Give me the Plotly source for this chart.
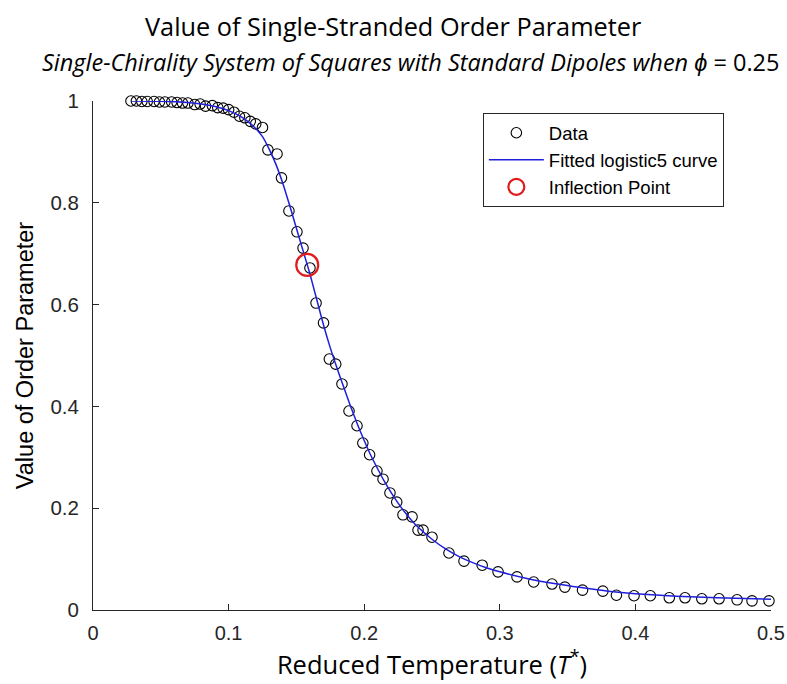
import plotly.graph_objects as go

# Data points (reduced temperature, order parameter)
data_T = [0.028, 0.032, 0.036, 0.040, 0.045, 0.049, 0.053, 0.058, 0.062, 0.066,
          0.070, 0.075, 0.079, 0.083, 0.088, 0.092, 0.096, 0.100, 0.104, 0.108,
          0.112, 0.116, 0.120, 0.125, 0.129, 0.1357, 0.139, 0.1445, 0.1504, 0.1549,
          0.160, 0.1645, 0.170, 0.1743, 0.179, 0.1836, 0.1888, 0.1947, 0.199, 0.204,
          0.2094, 0.2139, 0.219, 0.224, 0.2286, 0.2353, 0.2397, 0.2434, 0.250, 0.2625,
          0.2736, 0.287, 0.2987, 0.3127, 0.325, 0.3385, 0.348, 0.361, 0.376, 0.386,
          0.399, 0.411, 0.425, 0.4366, 0.449, 0.4617, 0.475, 0.486, 0.4985]
data_V = [1.000, 1.000, 0.999, 0.999, 0.999, 0.998, 0.998, 0.998, 0.997, 0.996,
          0.996, 0.993, 0.994, 0.990, 0.991, 0.987, 0.986, 0.983, 0.978, 0.970,
          0.967, 0.960, 0.955, 0.948, 0.904, 0.896, 0.849, 0.784, 0.743, 0.711,
          0.672, 0.603, 0.564, 0.493, 0.483, 0.444, 0.391, 0.362, 0.328, 0.305,
          0.273, 0.257, 0.230, 0.212, 0.187, 0.183, 0.157, 0.157, 0.143, 0.112,
          0.096, 0.088, 0.075, 0.065, 0.055, 0.051, 0.045, 0.039, 0.037, 0.029,
          0.028, 0.028, 0.024, 0.024, 0.022, 0.022, 0.020, 0.018, 0.018]

# Fitted logistic5 curve
fit_T = [0.028, 0.05, 0.07, 0.08, 0.09, 0.10, 0.11, 0.115, 0.12, 0.125,
         0.13, 0.135, 0.14, 0.145, 0.15, 0.155, 0.16, 0.165, 0.17, 0.175,
         0.18, 0.185, 0.19, 0.195, 0.20, 0.205, 0.21, 0.215, 0.22, 0.225,
         0.23, 0.235, 0.24, 0.25, 0.26, 0.27, 0.28, 0.29, 0.30, 0.32,
         0.34, 0.36, 0.38, 0.40, 0.43, 0.46, 0.50]
fit_V = [1.000, 0.9995, 0.997, 0.994, 0.989, 0.981, 0.968, 0.958, 0.946, 0.930,
         0.905, 0.875, 0.838, 0.795, 0.750, 0.705, 0.660, 0.610, 0.560, 0.515,
         0.475, 0.437, 0.400, 0.365, 0.333, 0.303, 0.277, 0.252, 0.230, 0.210,
         0.192, 0.176, 0.162, 0.139, 0.120, 0.105, 0.093, 0.083, 0.075, 0.062,
         0.052, 0.044, 0.037, 0.032, 0.027, 0.024, 0.021]

# Inflection point
infl_T = [0.158]
infl_V = [0.678]

x_ticks = [0, 0.1, 0.2, 0.3, 0.4, 0.5]
x_ticklabels = ["0", "0.1", "0.2", "0.3", "0.4", "0.5"]
y_ticks = [0, 0.2, 0.4, 0.6, 0.8, 1]
y_ticklabels = ["0", "0.2", "0.4", "0.6", "0.8", "1"]

AX = "#262626"
FONT = "Liberation Sans, Arial, sans-serif"
HUM = "Open Sans, sans-serif"

fig = go.Figure()
fig.add_trace(go.Scatter(
    x=data_T, y=data_V, mode="markers", name="Data",
    marker=dict(symbol="circle-open", size=10.5, color="black", line=dict(width=1.1, color="black")),
    cliponaxis=False,
))
fig.add_trace(go.Scatter(
    x=fit_T, y=fit_V, mode="lines", name="Fitted logistic5 curve",
    line=dict(color="#1f1fdc", width=1.5, shape="spline", smoothing=0.6),
    cliponaxis=False,
))
fig.add_trace(go.Scatter(
    x=infl_T, y=infl_V, mode="markers", name="Inflection Point",
    marker=dict(symbol="circle-open", size=22, color="#e01b1b", line=dict(width=2.2, color="#e01b1b")),
    cliponaxis=False,
))

fig.update_layout(
    width=787, height=684,
    margin=dict(l=93, r=16, t=101, b=74, autoexpand=False),
    paper_bgcolor="white", plot_bgcolor="white",
    font=dict(family=FONT, size=20, color=AX),
    showlegend=True,
    legend=dict(
        x=0.575, y=0.976, xanchor="left", yanchor="top",
        bgcolor="white", bordercolor=AX, borderwidth=1,
        font=dict(family=FONT, size=18.5, color="black"),
        itemwidth=55, tracegroupgap=0,
    ),
    xaxis=dict(
        range=[0, 0.5], tickvals=x_ticks, ticktext=x_ticklabels, automargin=False,
        ticks="inside", ticklen=6, tickcolor=AX, showline=True, linecolor=AX, linewidth=1,
        showgrid=False, zeroline=False, mirror=False, ticklabelstandoff=5,
        title=dict(text="Reduced Temperature (<i>T</i><sup>*</sup>)", font=dict(family=HUM, size=25.5, color="black"), standoff=6),
        tickfont=dict(family=FONT, size=20, color=AX),
    ),
    yaxis=dict(
        range=[0, 1], tickvals=y_ticks, ticktext=y_ticklabels, automargin=False,
        ticks="inside", ticklen=6, tickcolor=AX, showline=True, linecolor=AX, linewidth=1,
        showgrid=False, zeroline=False, mirror=False, ticklabelstandoff=9,
        title=dict(text="Value of Order Parameter", font=dict(family=FONT, size=23.5, color="black"), standoff=10),
        tickfont=dict(family=FONT, size=20.5, color=AX),
    ),
    annotations=[
        dict(text="Value of Single-Stranded Order Parameter", xref="paper", yref="paper",
             x=0.443, y=1, yshift=75, xanchor="center", yanchor="middle", showarrow=False,
             font=dict(family=HUM, size=25.3, color="black")),
        dict(text="<i>Single-Chirality System of Squares with Standard Dipoles when ϕ</i> = 0.25",
             xref="paper", yref="paper", x=0.469, y=1, yshift=39, xanchor="center", yanchor="middle",
             showarrow=False, font=dict(family=HUM, size=23.5, color="black")),
    ],
)

fig.write_html(
    "out.html",
    config={"displayModeBar": False},
    post_script=("document.documentElement.style.margin='0';document.body.style.margin='0';"
                 "document.documentElement.style.overflow='hidden';document.body.style.overflow='hidden';"),
)
